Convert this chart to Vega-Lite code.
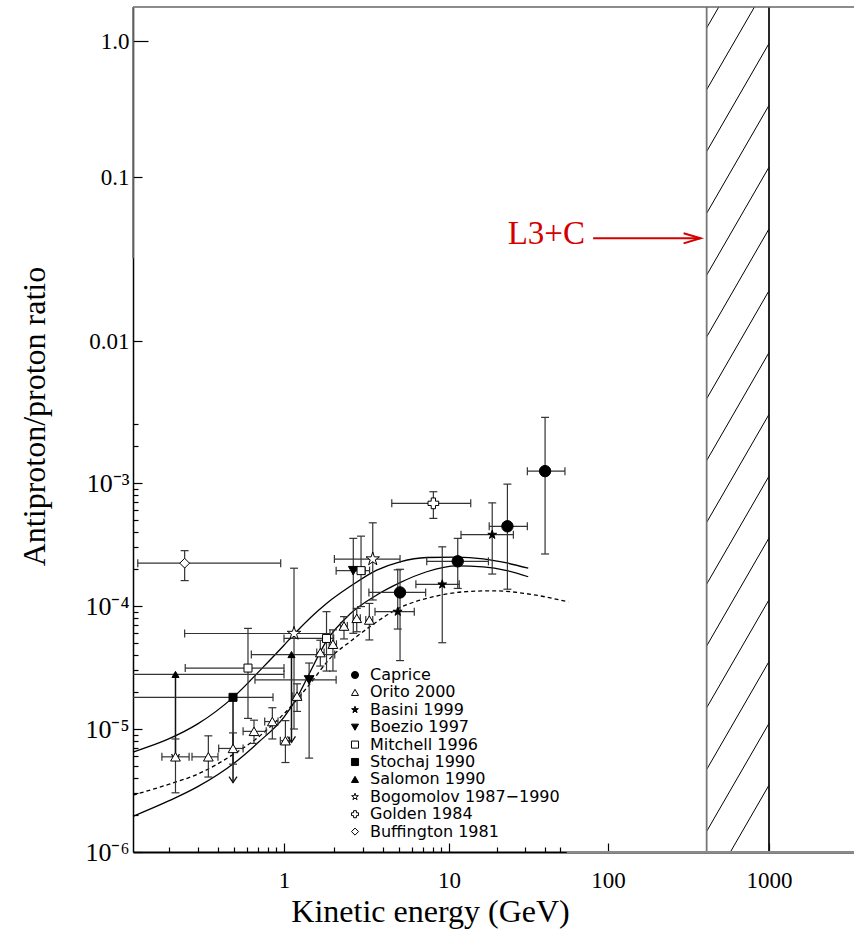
{
  "$schema": "https://vega.github.io/schema/vega-lite/v6.json",
  "width": 721,
  "height": 845,
  "autosize": {"type": "none"},
  "padding": {"left": 133, "top": 7, "right": 0, "bottom": 77},
  "background": "white",
  "config": {"view": {"stroke": null}, "font": "Liberation Serif"},
  "datasets": {
    "pts": [
      {"set": "Caprice", "E": 5.05, "R": 1.29e-4, "Elo": 3.27, "Ehi": 7.22, "Rlo": 3.6e-5, "Rhi": 1.99e-4},
      {"set": "Caprice", "E": 11.35, "R": 2.31e-4, "Elo": 7.33, "Ehi": 17.7, "Rlo": 1.39e-4, "Rhi": 3.55e-4},
      {"set": "Caprice", "E": 23.3, "R": 4.45e-4, "Elo": 17.9, "Ehi": 31.1, "Rlo": 1.37e-4, "Rhi": 9.8e-4},
      {"set": "Caprice", "E": 40.2, "R": 1.25e-3, "Elo": 31.1, "Ehi": 53.6, "Rlo": 2.65e-4, "Rhi": 3.42e-3},
      {"set": "Orito 2000", "E": 0.22, "R": 5.94e-6, "Elo": 0.182, "Ehi": 0.266, "Rlo": 3.03e-6, "Rhi": 8.3e-6},
      {"set": "Orito 2000", "E": 0.348, "R": 5.94e-6, "Elo": 0.277, "Ehi": 0.398, "Rlo": 4.07e-6, "Rhi": 8.8e-6},
      {"set": "Orito 2000", "E": 0.491, "R": 6.95e-6, "Elo": 0.402, "Ehi": 0.565, "Rlo": 5.18e-6, "Rhi": 9.3e-6},
      {"set": "Orito 2000", "E": 0.658, "R": 9.57e-6, "Elo": 0.565, "Ehi": 0.78, "Rlo": 7.64e-6, "Rhi": 1.18e-5},
      {"set": "Orito 2000", "E": 0.85, "R": 1.15e-5, "Elo": 0.764, "Ehi": 0.92, "Rlo": 8.3e-6, "Rhi": 1.49e-5},
      {"set": "Orito 2000", "E": 1.02, "R": 8.03e-6, "Elo": 0.95, "Ehi": 1.08, "Rlo": 5.34e-6, "Rhi": 1.17e-5},
      {"set": "Orito 2000", "E": 1.2, "R": 1.85e-5, "Elo": 1.13, "Ehi": 1.27, "Rlo": 1.39e-5, "Rhi": 2.33e-5},
      {"set": "Orito 2000", "E": 1.66, "R": 4.18e-5, "Elo": 1.58, "Ehi": 1.75, "Rlo": 3.25e-5, "Rhi": 5.27e-5},
      {"set": "Orito 2000", "E": 1.98, "R": 4.89e-5, "Elo": 1.88, "Ehi": 2.08, "Rlo": 2.96e-5, "Rhi": 6.4e-5},
      {"set": "Orito 2000", "E": 2.31, "R": 6.87e-5, "Elo": 2.2, "Ehi": 2.42, "Rlo": 5.4e-5, "Rhi": 8.2e-5},
      {"set": "Orito 2000", "E": 2.76, "R": 7.94e-5, "Elo": 2.63, "Ehi": 2.9, "Rlo": 6.18e-5, "Rhi": 9.57e-5},
      {"set": "Orito 2000", "E": 3.29, "R": 7.69e-5, "Elo": 3.13, "Ehi": 3.45, "Rlo": 5.3e-5, "Rhi": 1.05e-4},
      {"set": "Basini 1999", "E": 4.89, "R": 9.0e-5, "Elo": 3.56, "Ehi": 6.16, "Rlo": 6.5e-5, "Rhi": 1.97e-4},
      {"set": "Basini 1999", "E": 9.1, "R": 1.5e-4, "Elo": 6.3, "Ehi": 11.6, "Rlo": 5.03e-5, "Rhi": 3.03e-4},
      {"set": "Basini 1999", "E": 18.7, "R": 3.8e-4, "Elo": 11.9, "Ehi": 25.4, "Rlo": 1.82e-4, "Rhi": 6.9e-4},
      {"set": "Boezio 1997", "E": 1.42, "R": 2.51e-5, "Elo": 0.667, "Ehi": 2.07, "Rlo": 5.8e-6, "Rhi": 3.44e-5},
      {"set": "Boezio 1997", "E": 2.63, "R": 1.94e-4, "Elo": 2.07, "Ehi": 3.1, "Rlo": 6.0e-5, "Rhi": 3.55e-4},
      {"set": "Mitchell 1996", "E": 0.605, "R": 3.13e-5, "Elo": 0.252, "Ehi": 1.0, "Rlo": 1.22e-5, "Rhi": 6.58e-5},
      {"set": "Mitchell 1996", "E": 1.81, "R": 5.45e-5, "Elo": 1.0, "Ehi": 2.0, "Rlo": 2.96e-5, "Rhi": 9.0e-5},
      {"set": "Mitchell 1996", "E": 2.93, "R": 1.94e-4, "Elo": 2.6, "Ehi": 3.3, "Rlo": 9.9e-5, "Rhi": 3.7e-4},
      {"set": "Stochaj 1990", "E": 0.491, "R": 1.81e-5, "Elo": 0.12, "Ehi": 0.858, "lim": 3.66e-6},
      {"set": "Salomon 1990", "E": 0.22, "R": 2.78e-5, "Elo": 0.12, "Ehi": 1.0, "lim": 5.58e-6},
      {"set": "Salomon 1990", "E": 1.11, "R": 4.03e-5, "Elo": 0.634, "Ehi": 2.03, "lim": 7.78e-6},
      {"set": "Bogomolov 1987−1990", "E": 1.15, "R": 5.98e-5, "Elo": 0.25, "Ehi": 1.9, "Rlo": 1.0e-5, "Rhi": 2.03e-4},
      {"set": "Bogomolov 1987−1990", "E": 3.45, "R": 2.41e-4, "Elo": 2.02, "Ehi": 5.05, "Rlo": 1.12e-4, "Rhi": 4.75e-4},
      {"set": "Golden 1984", "E": 8.04, "R": 6.84e-4, "Elo": 4.5, "Ehi": 13.7, "Rlo": 5.16e-4, "Rhi": 8.5e-4},
      {"set": "Buffington 1981", "E": 0.25, "R": 2.23e-4, "Elo": 0.13, "Ehi": 0.955, "Rlo": 1.61e-4, "Rhi": 2.82e-4}
    ],
    "curves": [
      {"c": "upper", "E": 0.1216, "R": 6.5e-6}, {"c": "upper", "E": 0.2, "R": 8.3e-6}, {"c": "upper", "E": 0.3, "R": 1.1e-5},
      {"c": "upper", "E": 0.49, "R": 1.8e-5}, {"c": "upper", "E": 0.75, "R": 3.2e-5}, {"c": "upper", "E": 1.0, "R": 4.8e-5},
      {"c": "upper", "E": 1.15, "R": 5.9e-5}, {"c": "upper", "E": 1.81, "R": 1.05e-4}, {"c": "upper", "E": 2.51, "R": 1.44e-4},
      {"c": "upper", "E": 3.65, "R": 1.96e-4}, {"c": "upper", "E": 5.05, "R": 2.29e-4}, {"c": "upper", "E": 7.33, "R": 2.48e-4},
      {"c": "upper", "E": 11.2, "R": 2.5e-4}, {"c": "upper", "E": 16.4, "R": 2.42e-4}, {"c": "upper", "E": 23.1, "R": 2.24e-4},
      {"c": "upper", "E": 31.5, "R": 2.03e-4},
      {"c": "lower", "E": 0.1216, "R": 1.95e-6}, {"c": "lower", "E": 0.2, "R": 2.6e-6}, {"c": "lower", "E": 0.3, "R": 3.4e-6},
      {"c": "lower", "E": 0.5, "R": 5.3e-6}, {"c": "lower", "E": 0.7, "R": 7.8e-6}, {"c": "lower", "E": 1.0, "R": 1.25e-5},
      {"c": "lower", "E": 1.2, "R": 1.8e-5}, {"c": "lower", "E": 1.42, "R": 2.8e-5}, {"c": "lower", "E": 1.81, "R": 5.2e-5},
      {"c": "lower", "E": 2.51, "R": 8.6e-5}, {"c": "lower", "E": 3.65, "R": 1.23e-4}, {"c": "lower", "E": 5.05, "R": 1.55e-4},
      {"c": "lower", "E": 7.33, "R": 1.9e-4}, {"c": "lower", "E": 11.2, "R": 2.12e-4}, {"c": "lower", "E": 16.4, "R": 2.08e-4},
      {"c": "lower", "E": 23.1, "R": 1.94e-4}, {"c": "lower", "E": 31.5, "R": 1.73e-4},
      {"c": "dashed", "E": 0.1216, "R": 2.9e-6}, {"c": "dashed", "E": 0.2, "R": 3.55e-6}, {"c": "dashed", "E": 0.3, "R": 4.3e-6},
      {"c": "dashed", "E": 0.5, "R": 6.3e-6}, {"c": "dashed", "E": 0.7, "R": 8.6e-6}, {"c": "dashed", "E": 0.86, "R": 1.1e-5},
      {"c": "dashed", "E": 1.0, "R": 1.33e-5}, {"c": "dashed", "E": 1.37, "R": 2.15e-5}, {"c": "dashed", "E": 1.99, "R": 4.0e-5},
      {"c": "dashed", "E": 2.5, "R": 5.1e-5}, {"c": "dashed", "E": 3.32, "R": 6.8e-5}, {"c": "dashed", "E": 5.05, "R": 9.7e-5},
      {"c": "dashed", "E": 8.04, "R": 1.19e-4}, {"c": "dashed", "E": 12.9, "R": 1.31e-4}, {"c": "dashed", "E": 19, "R": 1.33e-4},
      {"c": "dashed", "E": 30.8, "R": 1.26e-4}, {"c": "dashed", "E": 56.3, "R": 1.08e-4}
    ],
    "hatch": [
      {"E0": 410, "E1": 1000, "R0": 1.248, "R1": 7.771},
      {"E0": 410, "E1": 1000, "R0": 0.4385, "R1": 2.729},
      {"E0": 410, "E1": 1000, "R0": 0.154, "R1": 0.9585},
      {"E0": 410, "E1": 1000, "R0": 0.06007, "R1": 0.3366},
      {"E0": 410, "E1": 1000, "R0": 0.02522, "R1": 0.1182},
      {"E0": 410, "E1": 1000, "R0": 0.01059, "R1": 0.04826},
      {"E0": 410, "E1": 1000, "R0": 0.004596, "R1": 0.02026},
      {"E0": 410, "E1": 1000, "R0": 0.001524, "R1": 0.008563},
      {"E0": 410, "E1": 1000, "R0": 4.786e-4, "R1": 0.003619},
      {"E0": 410, "E1": 1000, "R0": 1.507e-4, "R1": 0.001138},
      {"E0": 410, "E1": 1000, "R0": 4.737e-5, "R1": 3.579e-4},
      {"E0": 410, "E1": 1000, "R0": 1.49e-5, "R1": 1.125e-4},
      {"E0": 410, "E1": 1000, "R0": 4.685e-6, "R1": 3.538e-5},
      {"E0": 410, "E1": 1000, "R0": 1.473e-6, "R1": 1.112e-5},
      {"E0": 410, "E1": 1000, "R0": 4.634e-7, "R1": 3.498e-6}
    ],
    "band": [
      {"E": 410, "side": "left"},
      {"E": 1000, "side": "right"}
    ],
    "notes": [
      {"kind": "label", "E": 71.6, "R": 0.039, "text": "L3+C"},
      {"kind": "arrow", "E": 80.6, "E2": 376, "R": 0.0423}
    ]
  },
  "layer": [
    {
      "data": {"name": "hatch"},
      "mark": {"type": "rule", "clip": true, "color": "black", "strokeWidth": 1},
      "encoding": {
        "x": {
          "field": "E0", "type": "quantitative",
          "scale": {"type": "log", "domain": [0.1216, 1, 10, 100, 1000, 3375], "range": [0, 151, 316, 475, 636, 721], "nice": false, "zero": false},
          "axis": {
            "orient": "bottom",
            "title": "Kinetic energy (GeV)",
            "titleFont": "Liberation Serif", "titleFontSize": 32, "titleFontWeight": "normal", "titleColor": "black",
            "titleX": 297, "titleY": 69, "titleBaseline": "alphabetic",
            "values": [0.2, 0.3, 0.4, 0.5, 0.6, 0.7, 0.8, 0.9, 1, 2, 3, 4, 5, 6, 7, 8, 9, 10, 20, 30, 40, 50, 100, 1000],
            "labelExpr": "datum.value===1||datum.value===10||datum.value===100||datum.value===1000?''+datum.value:''",
            "labelFont": "Liberation Serif", "labelFontSize": 23, "labelColor": "black",
            "labelPadding": 26, "labelFlush": false, "labelOverlap": false, "labelBound": false,
            "tickSize": {"condition": {"test": "datum.value===1||datum.value===10||datum.value===100||datum.value===1000", "value": -9}, "value": -5},
            "tickColor": "black", "tickWidth": 1.2,
            "domainColor": "black", "domainWidth": 2, "grid": false
          }
        },
        "x2": {"field": "E1"},
        "y": {
          "field": "R0", "type": "quantitative",
          "scale": {"type": "log", "domain": [1e-6, 0.004, 0.01, 0.1, 1, 1.78], "range": [845, 402, 334, 170, 34, 0], "nice": false, "zero": false},
          "axis": {
            "orient": "left",
            "title": "Antiproton/proton ratio",
            "titleFont": "Liberation Serif", "titleFontSize": 32, "titleFontWeight": "normal", "titleColor": "black",
            "titleX": -89, "titleY": 409, "titleBaseline": "alphabetic",
            "values": [1e-6, 2e-6, 3e-6, 4e-6, 5e-6, 6e-6, 7e-6, 8e-6, 9e-6, 1e-5, 2e-5, 3e-5, 4e-5, 5e-5, 6e-5, 7e-5, 8e-5, 9e-5, 1e-4, 2e-4, 3e-4, 4e-4, 5e-4, 6e-4, 7e-4, 8e-4, 9e-4, 1e-3, 2e-3, 3e-3, 0.01, 0.1, 1],
            "labelExpr": "datum.value===1?'1.0':datum.value===0.1?'0.1':datum.value===0.01?'0.01':datum.value===0.001?'10⁻³':datum.value===0.0001?'10⁻⁴':datum.value===0.00001?'10⁻⁵':datum.value===0.000001?'10⁻⁶':''",
            "labelFont": "Liberation Serif", "labelColor": "black",
            "labelFontSize": {"condition": {"test": "datum.value<0.005", "value": 26}, "value": 23},
            "labelPadding": {"condition": {"test": "datum.value===1", "value": 19}, "value": 13},
            "labelFlush": false, "labelOverlap": false, "labelBound": false,
            "tickSize": {"condition": [{"test": "datum.value===1", "value": -15}, {"test": "datum.value===1e-6||datum.value===1e-5||datum.value===1e-4||datum.value===1e-3||datum.value===0.01||datum.value===0.1", "value": -9}], "value": -5},
            "tickColor": "black", "tickWidth": 1.2,
            "domainColor": "black", "domainWidth": 1.5, "grid": false
          }
        },
        "y2": {"field": "R1"}
      }
    },
    {
      "data": {"name": "band"},
      "mark": {"type": "rule", "strokeWidth": 1.8},
      "encoding": {
        "x": {"field": "E", "type": "quantitative"},
        "color": {"field": "side", "type": "nominal", "scale": {"domain": ["left", "right"], "range": ["#777777", "#111111"]}, "legend": null}
      }
    },
    {
      "data": {"values": [{}]},
      "mark": {"type": "rule", "color": "#666666", "strokeWidth": 1.5},
      "encoding": {"y": {"datum": 1.78, "type": "quantitative"}}
    },
    {
      "data": {"values": [{}]},
      "mark": {"type": "rule", "color": "#777777", "strokeWidth": 1.6},
      "encoding": {"x": {"datum": 0.1216, "type": "quantitative"}, "y": {"datum": 0.032, "type": "quantitative"}, "y2": {"datum": 1.78}}
    },
    {
      "data": {"values": [{}]},
      "mark": {"type": "rule", "color": "#8a8a8a", "strokeWidth": 2},
      "encoding": {"y": {"datum": 1e-6, "type": "quantitative"}, "x": {"datum": 55, "type": "quantitative"}, "x2": {"datum": 3375}}
    },
    {
      "data": {"name": "curves"},
      "transform": [{"filter": "datum.c!=='dashed'"}],
      "mark": {"type": "line", "interpolate": "monotone", "color": "black", "strokeWidth": 1.3},
      "encoding": {
        "x": {"field": "E", "type": "quantitative"},
        "y": {"field": "R", "type": "quantitative"},
        "detail": {"field": "c", "type": "nominal"}
      }
    },
    {
      "data": {"name": "curves"},
      "transform": [{"filter": "datum.c==='dashed'"}],
      "mark": {"type": "line", "interpolate": "monotone", "color": "black", "strokeWidth": 1.3, "strokeDash": [4, 3]},
      "encoding": {
        "x": {"field": "E", "type": "quantitative"},
        "y": {"field": "R", "type": "quantitative"}
      }
    },
    {
      "data": {"name": "pts"},
      "transform": [{"filter": "isValid(datum.Rlo)"}],
      "mark": {"type": "rule", "color": "#333333", "strokeWidth": 1.2, "clip": true},
      "encoding": {"x": {"field": "E", "type": "quantitative"}, "y": {"field": "Rlo", "type": "quantitative"}, "y2": {"field": "Rhi"}}
    },
    {
      "data": {"name": "pts"},
      "transform": [{"filter": "isValid(datum.lim)"}],
      "mark": {"type": "rule", "color": "#111111", "strokeWidth": 1.5},
      "encoding": {"x": {"field": "E", "type": "quantitative"}, "y": {"field": "R", "type": "quantitative"}, "y2": {"field": "lim"}}
    },
    {
      "data": {"name": "pts"},
      "mark": {"type": "rule", "color": "#333333", "strokeWidth": 1.2, "clip": true},
      "encoding": {"x": {"field": "Elo", "type": "quantitative"}, "x2": {"field": "Ehi"}, "y": {"field": "R", "type": "quantitative"}}
    },
    {
      "data": {"name": "pts"},
      "transform": [{"filter": "isValid(datum.Rlo)"}],
      "mark": {"type": "tick", "orient": "horizontal", "size": 8, "thickness": 1.2, "color": "#333333", "opacity": 1},
      "encoding": {"x": {"field": "E", "type": "quantitative"}, "y": {"field": "Rlo", "type": "quantitative"}}
    },
    {
      "data": {"name": "pts"},
      "transform": [{"filter": "isValid(datum.Rhi)"}],
      "mark": {"type": "tick", "orient": "horizontal", "size": 8, "thickness": 1.2, "color": "#333333", "opacity": 1},
      "encoding": {"x": {"field": "E", "type": "quantitative"}, "y": {"field": "Rhi", "type": "quantitative"}}
    },
    {
      "data": {"name": "pts"},
      "mark": {"type": "tick", "orient": "vertical", "size": 8, "thickness": 1.2, "color": "#333333", "opacity": 1, "clip": true},
      "encoding": {"x": {"field": "Elo", "type": "quantitative"}, "y": {"field": "R", "type": "quantitative"}}
    },
    {
      "data": {"name": "pts"},
      "mark": {"type": "tick", "orient": "vertical", "size": 8, "thickness": 1.2, "color": "#333333", "opacity": 1, "clip": true},
      "encoding": {"x": {"field": "Ehi", "type": "quantitative"}, "y": {"field": "R", "type": "quantitative"}}
    },
    {
      "data": {"name": "pts"},
      "transform": [{"filter": "isValid(datum.lim)"}],
      "mark": {"type": "point", "shape": "M -1 -1.5 L 0 0 L 1 -1.5", "size": 64, "filled": false, "stroke": "#111111", "strokeWidth": 1.3, "opacity": 1},
      "encoding": {"x": {"field": "E", "type": "quantitative"}, "y": {"field": "lim", "type": "quantitative"}}
    },
    {
      "data": {"name": "pts"},
      "mark": {"type": "point", "filled": true, "strokeWidth": 1, "opacity": 1},
      "encoding": {
        "x": {"field": "E", "type": "quantitative"},
        "y": {"field": "R", "type": "quantitative"},
        "size": {
          "condition": [
            {"test": "datum.set==='Caprice'", "value": 130},
            {"test": "datum.set==='Bogomolov 1987−1990'", "value": 200},
            {"test": "datum.set==='Salomon 1990'", "value": 50},
            {"test": "datum.set==='Mitchell 1996'||datum.set==='Stochaj 1990'", "value": 64},
            {"test": "datum.set==='Golden 1984'", "value": 115},
            {"test": "datum.set==='Basini 1999'", "value": 85}
          ],
          "value": 95
        },
        "shape": {
          "field": "set", "type": "nominal",
          "scale": {
            "domain": ["Caprice", "Orito 2000", "Basini 1999", "Boezio 1997", "Mitchell 1996", "Stochaj 1990", "Salomon 1990", "Bogomolov 1987−1990", "Golden 1984", "Buffington 1981"],
            "range": ["circle", "triangle-up", "M0,-1L0.2245,-0.309L0.951,-0.309L0.363,0.118L0.588,0.809L0,0.382L-0.588,0.809L-0.363,0.118L-0.951,-0.309L-0.2245,-0.309Z", "triangle-down", "square", "square", "triangle-up", "M0,-1L0.2245,-0.309L0.951,-0.309L0.363,0.118L0.588,0.809L0,0.382L-0.588,0.809L-0.363,0.118L-0.951,-0.309L-0.2245,-0.309Z", "cross", "diamond"]
          },
          "legend": {
            "orient": "none", "legendX": 214, "legendY": 660, "title": null, "padding": 0,
            "labelFont": "DejaVu Sans", "labelFontSize": 16, "labelColor": "black", "labelLimit": 400,
            "symbolSize": 50, "symbolStrokeWidth": 1, "symbolOpacity": 1,
            "rowPadding": 1.4, "labelOffset": 7
          }
        },
        "fill": {
          "field": "set", "type": "nominal",
          "scale": {
            "domain": ["Caprice", "Orito 2000", "Basini 1999", "Boezio 1997", "Mitchell 1996", "Stochaj 1990", "Salomon 1990", "Bogomolov 1987−1990", "Golden 1984", "Buffington 1981"],
            "range": ["black", "white", "black", "black", "white", "black", "black", "white", "white", "white"]
          },
          "legend": {
            "orient": "none", "legendX": 214, "legendY": 660, "title": null, "padding": 0,
            "labelFont": "DejaVu Sans", "labelFontSize": 16, "labelColor": "black", "labelLimit": 400,
            "symbolSize": 50, "symbolStrokeWidth": 1, "symbolOpacity": 1,
            "rowPadding": 1.4, "labelOffset": 7
          }
        },
        "stroke": {
          "field": "set", "type": "nominal",
          "scale": {
            "domain": ["Caprice", "Orito 2000", "Basini 1999", "Boezio 1997", "Mitchell 1996", "Stochaj 1990", "Salomon 1990", "Bogomolov 1987−1990", "Golden 1984", "Buffington 1981"],
            "range": ["black", "black", "black", "black", "black", "black", "black", "black", "black", "black"]
          },
          "legend": {
            "orient": "none", "legendX": 214, "legendY": 660, "title": null, "padding": 0,
            "labelFont": "DejaVu Sans", "labelFontSize": 16, "labelColor": "black", "labelLimit": 400,
            "symbolSize": 50, "symbolStrokeWidth": 1, "symbolOpacity": 1,
            "rowPadding": 1.4, "labelOffset": 7
          }
        }
      }
    },
    {
      "data": {"name": "notes"},
      "transform": [{"filter": "datum.kind==='label'"}],
      "mark": {"type": "text", "align": "right", "baseline": "alphabetic", "font": "Liberation Serif", "fontSize": 33, "color": "#d40000"},
      "encoding": {"x": {"field": "E", "type": "quantitative"}, "y": {"field": "R", "type": "quantitative"}, "text": {"field": "text"}}
    },
    {
      "data": {"name": "notes"},
      "transform": [{"filter": "datum.kind==='arrow'"}],
      "mark": {"type": "rule", "color": "#d40000", "strokeWidth": 2},
      "encoding": {"x": {"field": "E", "type": "quantitative"}, "x2": {"field": "E2"}, "y": {"field": "R", "type": "quantitative"}}
    },
    {
      "data": {"name": "notes"},
      "transform": [{"filter": "datum.kind==='arrow'"}],
      "mark": {"type": "point", "shape": "M -1 -0.3 L 0 0 L -1 0.3", "size": 1156, "filled": false, "stroke": "#d40000", "strokeWidth": 2, "opacity": 1},
      "encoding": {"x": {"field": "E2", "type": "quantitative"}, "y": {"field": "R", "type": "quantitative"}}
    }
  ]
}
